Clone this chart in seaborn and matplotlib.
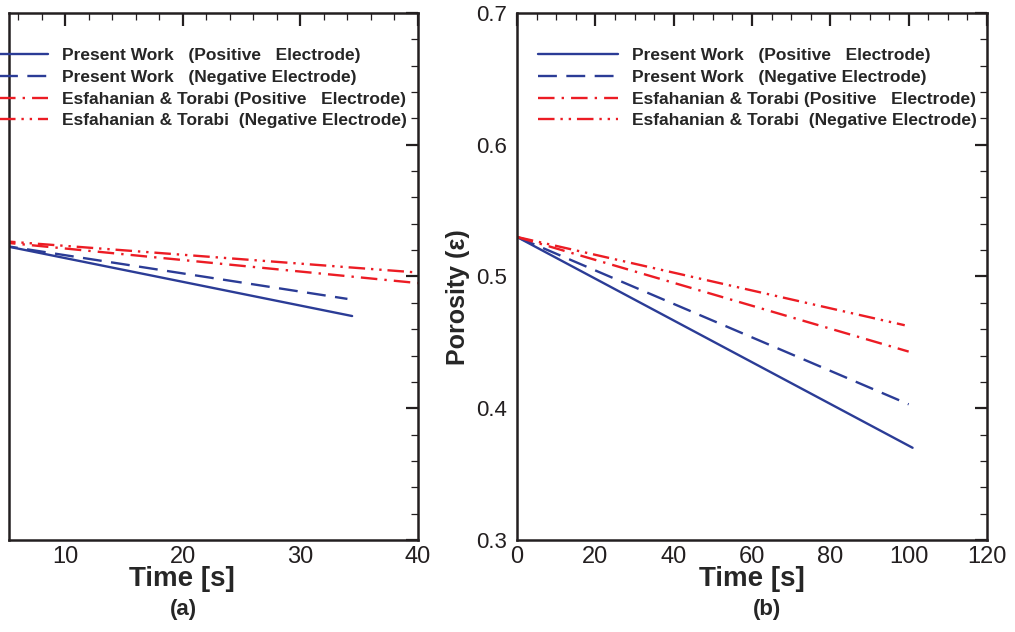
import pandas as pd
import seaborn as sns
import matplotlib.pyplot as plt
from matplotlib.ticker import MultipleLocator
import warnings

warnings.filterwarnings("ignore")

sns.set_style("white")
plt.rcParams["font.family"] = ["Liberation Sans", "DejaVu Sans"]

series = [
    "Present Work   (Positive   Electrode)",
    "Present Work   (Negative Electrode)",
    "Esfahanian & Torabi (Positive   Electrode)",
    "Esfahanian & Torabi  (Negative Electrode)",
]
colors = ["#2b3c96", "#2b3c96", "#ec1c24", "#ec1c24"]
dash_styles = ["", (8, 4), (7, 3, 1, 3), (7, 2.5, 1, 2.5, 1, 2.5)]

# panel (a)
time_a = [[0, 34.4], [0, 34.0], [0, 40.0], [0, 40.0]]
por_a = [[0.532, 0.470], [0.530, 0.483], [0.530, 0.495], [0.530, 0.503]]

# panel (b)
time_b = [[0, 101], [0, 100], [0, 100], [0, 99]]
por_b = [[0.530, 0.370], [0.530, 0.403], [0.530, 0.443], [0.530, 0.463]]


def make_frame(times, values):
    rows = []
    for name, t, v in zip(series, times, values):
        for ti, vi in zip(t, v):
            rows.append({"series": name, "time": ti, "porosity": vi})
    return pd.DataFrame(rows)


def draw(ax, df):
    sns.lineplot(
        data=df,
        x="time",
        y="porosity",
        hue="series",
        style="series",
        hue_order=series,
        style_order=series,
        palette=dict(zip(series, colors)),
        dashes=dict(zip(series, dash_styles)),
        linewidth=1.7,
        estimator=None,
        sort=False,
        ax=ax,
    )
    handles, labels = ax.get_legend_handles_labels()
    ax.get_legend().remove()
    return handles, labels


def settings_plot(ax, major_x, minor_x):
    ax.xaxis.set_major_locator(MultipleLocator(major_x))
    ax.xaxis.set_minor_locator(MultipleLocator(minor_x))
    ax.yaxis.set_major_locator(MultipleLocator(0.1))
    ax.yaxis.set_minor_locator(MultipleLocator(0.02))
    ax.set_ylim(0.3, 0.7)
    ax.tick_params(which="both", direction="in", top=True, right=True, colors="#231f20")
    ax.tick_params(which="major", length=9, width=1.6)
    ax.tick_params(which="minor", length=5, width=0.9)
    ax.tick_params(axis="x", pad=4, labelsize=17)
    ax.tick_params(axis="y", pad=7, labelsize=16)
    for s in ax.spines.values():
        s.set_linewidth(1.8)
        s.set_color("#231f20")
    ax.set_xlabel("Time [s]", fontsize=20, fontweight="bold")
    ax.set_ylabel("")
    return ax


fig = plt.figure(figsize=(10.15, 6.32), dpi=100, facecolor="white")
ax_a = fig.add_axes([9 / 1015, 1 - 540 / 632, 409 / 1015, 527 / 632])
ax_b = fig.add_axes([517 / 1015, 1 - 540 / 632, 470 / 1015, 527 / 632])

h, l = draw(ax_a, make_frame(time_a, por_a))
draw(ax_b, make_frame(time_b, por_b))

ax_a.set_xlim(5.23, 40)
ax_b.set_xlim(0, 120)
settings_plot(ax_a, 10, 2)
settings_plot(ax_b, 20, 5)
ax_a.tick_params(which="both", left=False, labelleft=False)

ax_b.set_ylabel("Porosity (ε)", fontsize=18, fontweight="bold")
ax_b.yaxis.set_label_coords(-0.1, 0.46)
ax_a.xaxis.set_label_coords((182 - 9) / 409, -0.05)
ax_b.xaxis.set_label_coords(0.5, -0.05)

fig.text(183 / 1015, 1 - 609 / 632, "(a)", ha="center", va="center", fontsize=16, fontweight="bold")
fig.text(767 / 1015, 1 - 609 / 632, "(b)", ha="center", va="center", fontsize=16, fontweight="bold")

for x0 in [-32 / 1015, 538 / 1015]:
    ax = ax_a if x0 < 0 else ax_b
    ax.legend(
        h,
        l,
        loc="upper left",
        bbox_to_anchor=(x0, 1 - 48 / 632),
        bbox_transform=fig.transFigure,
        frameon=False,
        borderpad=0,
        borderaxespad=0,
        handlelength=4.6,
        handletextpad=0.8,
        labelspacing=0.38,
        prop={"weight": "bold", "size": 12.5},
    )

plt.savefig("out.png", dpi=100)
